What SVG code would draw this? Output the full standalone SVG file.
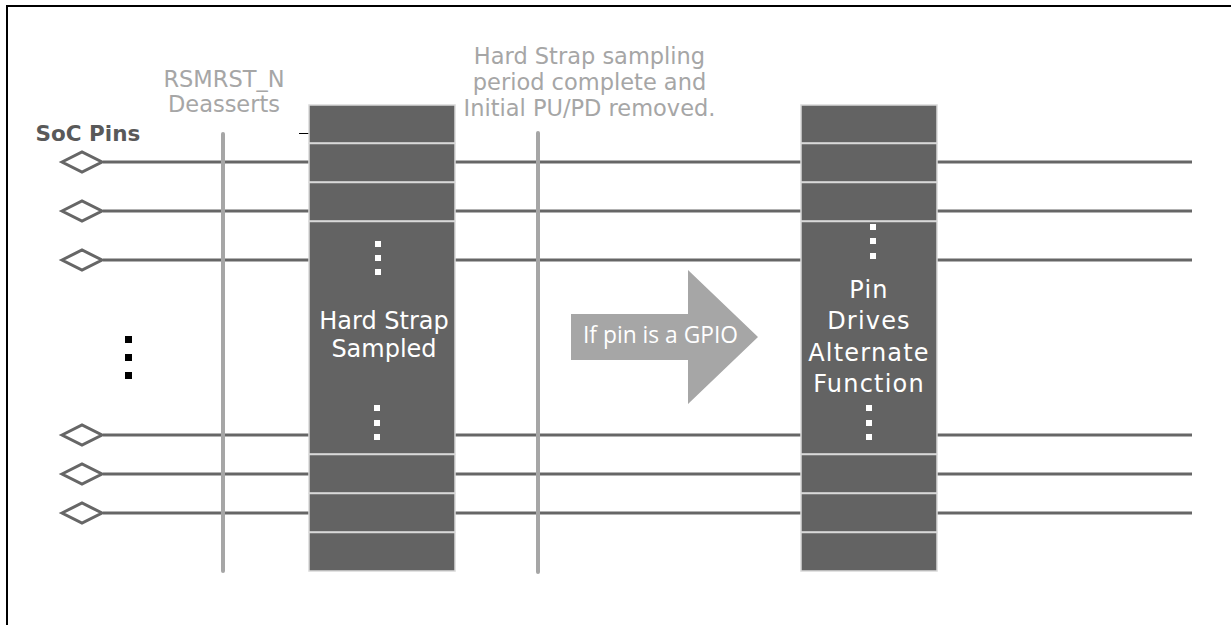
<svg xmlns="http://www.w3.org/2000/svg" width="1231" height="625" viewBox="0 0 1231 625">
<style>
.pin{stroke:#666666;stroke-width:3;fill:none}
.dia{stroke:#666666;stroke-width:3;fill:#ffffff}
.vline{stroke:#a6a6a6;stroke-width:4;stroke-linecap:round;fill:none}
.row{fill:#636363;stroke:#d9d9d9;stroke-width:1.5}
.wdot{fill:#ffffff}
.lbl{font-family:"DejaVu Sans",Verdana,sans-serif;font-size:22.5px;fill:#a6a6a6;text-anchor:middle}
.btxt{font-family:"DejaVu Sans",Verdana,sans-serif;font-size:24px;fill:#ffffff;text-anchor:middle}
</style>
<rect x="0" y="0" width="1231" height="625" fill="#ffffff"/>
<rect x="7" y="6" width="1240" height="640" fill="none" stroke="#000000" stroke-width="2"/>

<g id="connectors">
<line class="pin" x1="103" y1="162" x2="1192" y2="162"/>
<line class="pin" x1="103" y1="211" x2="1192" y2="211"/>
<line class="pin" x1="103" y1="260" x2="1192" y2="260"/>
<line class="pin" x1="103" y1="435" x2="1192" y2="435"/>
<line class="pin" x1="103" y1="474" x2="1192" y2="474"/>
<line class="pin" x1="103" y1="513" x2="1192" y2="513"/>
<line x1="299" y1="133.5" x2="309" y2="133.5" stroke="#000000" stroke-width="1"/>
</g>

<g id="pins">
<polygon class="dia" points="62,162 82,152 102,162 82,172"/>
<polygon class="dia" points="62,211 82,201 102,211 82,221"/>
<polygon class="dia" points="62,260 82,250 102,260 82,270"/>
<polygon class="dia" points="62,435 82,425 102,435 82,445"/>
<polygon class="dia" points="62,474 82,464 102,474 82,484"/>
<polygon class="dia" points="62,513 82,503 102,513 82,523"/>
<rect x="125" y="336" width="7" height="7" fill="#000000"/>
<rect x="125" y="354" width="7" height="7" fill="#000000"/>
<rect x="125" y="372" width="7" height="7" fill="#000000"/>
</g>

<g id="soc-label">
<text x="35.5" y="140.5" font-family="'DejaVu Sans',Verdana,sans-serif" font-size="21.5" font-weight="bold" fill="#595959">SoC Pins</text>
</g>

<g id="rsmrst-marker">
<line class="vline" x1="223" y1="134" x2="223" y2="571"/>
<text class="lbl" x="224" y="87">RSMRST_N</text>
<text class="lbl" x="224" y="112">Deasserts</text>
</g>

<g id="sampling-complete-marker">
<line class="vline" x1="538" y1="133" x2="538" y2="572"/>
<text class="lbl" x="589.5" y="64">Hard Strap sampling</text>
<text class="lbl" x="589.5" y="90">period complete and</text>
<text class="lbl" x="589.5" y="116">Initial PU/PD removed.</text>
</g>

<g id="hard-strap-block">
<rect class="row" x="309" y="105" width="146" height="38"/>
<rect class="row" x="309" y="143.5" width="146" height="38.5"/>
<rect class="row" x="309" y="182.5" width="146" height="38.5"/>
<rect class="row" x="309" y="221.5" width="146" height="232.5"/>
<rect class="row" x="309" y="454.5" width="146" height="38.5"/>
<rect class="row" x="309" y="493.5" width="146" height="38.5"/>
<rect class="row" x="309" y="532.5" width="146" height="38.5"/>
<rect class="wdot" x="375" y="241" width="6" height="6"/>
<rect class="wdot" x="375" y="255" width="6" height="6"/>
<rect class="wdot" x="375" y="269" width="6" height="6"/>
<rect class="wdot" x="374" y="405" width="6" height="6"/>
<rect class="wdot" x="374" y="420" width="6" height="6"/>
<rect class="wdot" x="374" y="434" width="6" height="6"/>
<text class="btxt" x="384" y="329">Hard Strap</text>
<text class="btxt" x="384" y="357">Sampled</text>
</g>

<g id="gpio-arrow">
<polygon points="571,314 688,314 688,270 758,337 688,404 688,360 571,360" fill="#a6a6a6"/>
<text x="583" y="343" font-family="'Open Sans','Noto Sans',sans-serif" font-size="23" fill="#ffffff" textLength="155" lengthAdjust="spacingAndGlyphs">If pin is a GPIO</text>
</g>

<g id="alt-function-block">
<rect class="row" x="801" y="105" width="136" height="38"/>
<rect class="row" x="801" y="143.5" width="136" height="38.5"/>
<rect class="row" x="801" y="182.5" width="136" height="38.5"/>
<rect class="row" x="801" y="221.5" width="136" height="232.5"/>
<rect class="row" x="801" y="454.5" width="136" height="38.5"/>
<rect class="row" x="801" y="493.5" width="136" height="38.5"/>
<rect class="row" x="801" y="532.5" width="136" height="38.5"/>
<rect class="wdot" x="870" y="224" width="6" height="6"/>
<rect class="wdot" x="870" y="238" width="6" height="6"/>
<rect class="wdot" x="870" y="253" width="6" height="6"/>
<rect class="wdot" x="866" y="405" width="6" height="6"/>
<rect class="wdot" x="866" y="420" width="6" height="6"/>
<rect class="wdot" x="866" y="434" width="6" height="6"/>
<text class="btxt" x="869" y="298" letter-spacing="1.2">Pin</text>
<text class="btxt" x="869" y="329" letter-spacing="1.2">Drives</text>
<text class="btxt" x="869" y="360.5" letter-spacing="1.2">Alternate</text>
<text class="btxt" x="869" y="391.5" letter-spacing="1.2">Function</text>
</g>
</svg>
